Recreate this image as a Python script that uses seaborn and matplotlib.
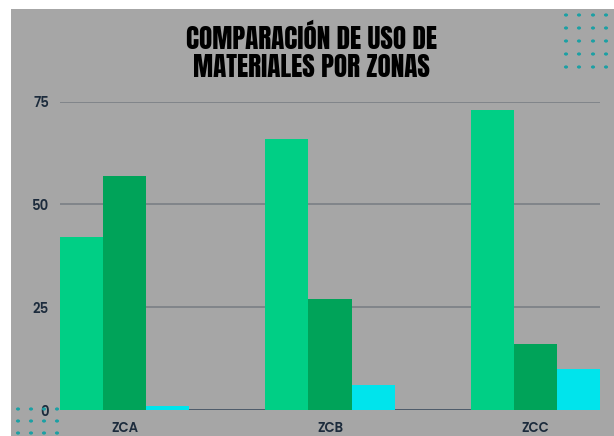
import matplotlib
matplotlib.use("Agg")
import matplotlib.pyplot as plt
from matplotlib import font_manager
from matplotlib.font_manager import FontProperties
from matplotlib.patches import Rectangle
import seaborn as sns
import pandas as pd
import os

zones = ["ZCA", "ZCB", "ZCC"]
series = ["Material 1", "Material 2", "Material 3"]
mat1 = [42, 66, 73]
mat2 = [57, 27, 16]
mat3 = [1, 6, 10]
yticks = [0, 25, 50, 75]
title = "COMPARACIÓN DE USO DE\nMATERIALES POR ZONAS"

colors = ["#00CF85", "#00A359", "#00E4EC"]
bg = "#A6A6A6"
txt = "#1C2B3C"

rows = []
for s, vals in zip(series, [mat1, mat2, mat3]):
    for z, v in zip(zones, vals):
        rows.append({"zona": z, "serie": s, "valor": v})
df = pd.DataFrame(rows)

sns.set_theme(style="white")
files = {os.path.basename(f.fname): f.fname for f in font_manager.fontManager.ttflist}

tick_fp = None
for pref in ["Poppins-SemiBold.ttf", "Poppins-Bold.ttf"]:
    if pref in files:
        tick_fp = FontProperties(fname=files[pref], size=9.5)
        break
if tick_fp is None:
    tick_fp = FontProperties(family="Roboto", weight="bold", size=10)

title_path = None
for pref in ["Anton-Regular.ttf", "BebasNeue-Regular.ttf", "Oswald-Bold.ttf",
             "SairaCondensed-Black.ttf"]:
    if pref in files:
        title_path = files[pref]
        break
if title_path:
    title_fp = FontProperties(fname=title_path, size=19.5)
else:
    title_fp = FontProperties(family="Liberation Sans", weight="bold", size=16)

W, H = 614, 436
fig = plt.figure(figsize=(W / 100, H / 100), dpi=100, facecolor="white")
fig.add_artist(Rectangle((11 / W, 0), 1, 1 - 9 / H, transform=fig.transFigure,
                         facecolor=bg, edgecolor="none", zorder=0))

ax = fig.add_axes([60 / W, 26 / H, 540 / W, 308.3 / H])
ax.set_facecolor("none")
sns.barplot(data=df, x="zona", y="valor", hue="serie", palette=colors,
            width=0.63, gap=0, saturation=1, edgecolor="none", linewidth=0,
            ax=ax, legend=False, zorder=3)
ax.set_xlim(-0.315, 2.315)
ax.set_ylim(0, 75)
ax.set_yticks(yticks)
ax.yaxis.grid(True, color="#7E8287", linewidth=1.3)
ax.set_axisbelow(True)
ax.axhline(0, color="#4A5868", linewidth=2, zorder=2)
for sp in ax.spines.values():
    sp.set_visible(False)
ax.set_xlabel("")
ax.set_ylabel("")
ax.tick_params(axis="both", length=0, colors=txt)
ax.tick_params(axis="y", pad=8)
ax.tick_params(axis="x", pad=8)
for lab in ax.get_xticklabels() + ax.get_yticklabels():
    lab.set_fontproperties(tick_fp)
    lab.set_color(txt)

dot_color = "#1AA0A4"
for cx in [566, 579, 593, 606]:
    for cy in [15, 28, 41, 54, 67]:
        fig.add_artist(plt.Circle((cx / W, 1 - cy / H), 1.3 / W, transform=fig.transFigure,
                                  color=dot_color, zorder=5))
for cx in [18, 31, 44, 57]:
    for cy in [409, 421, 433]:
        fig.add_artist(plt.Circle((cx / W, 1 - cy / H), 1.3 / W, transform=fig.transFigure,
                                  color=dot_color, zorder=1))

fig.text(311 / W, 1 - 51 / H, title, ha="center", va="center",
         fontproperties=title_fp, color="black", linespacing=1.08)

fig.savefig("out.png", dpi=100, facecolor="white")
